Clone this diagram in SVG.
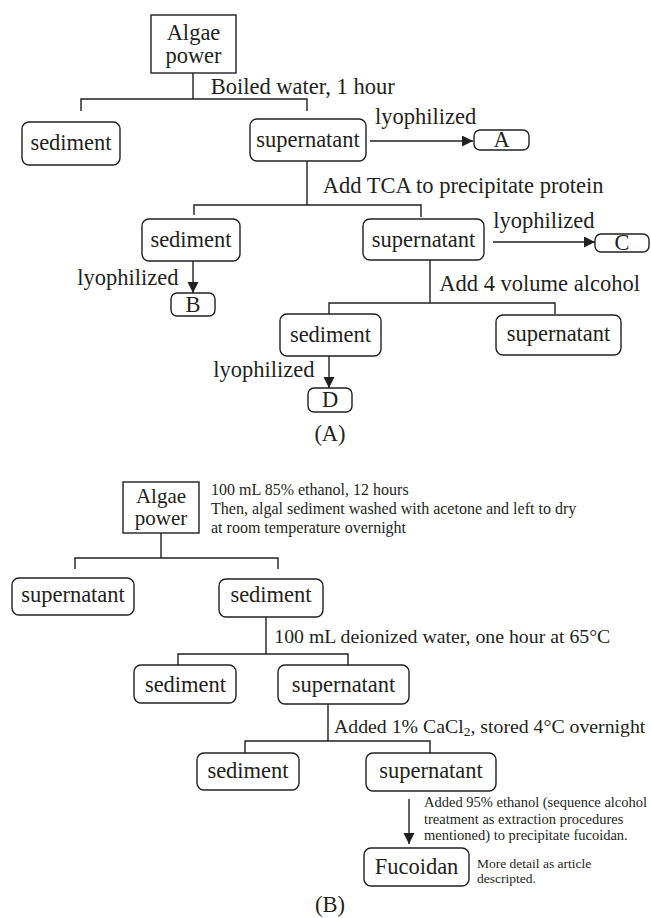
<svg xmlns="http://www.w3.org/2000/svg" width="651" height="918" viewBox="0 0 651 918">
<defs>
<marker id="arr" markerUnits="userSpaceOnUse" markerWidth="12" markerHeight="12" refX="11" refY="5.5" orient="auto">
<path d="M0,0 L11,5.5 L0,11 Z" fill="#231f20"/>
</marker>
<style>
text{font-family:"Liberation Serif","Times New Roman",serif;fill:#231f20;}
.t{font-size:22.5px;}
.t20{font-size:19.8px;}
.c{text-anchor:middle;}
.s16{font-size:16px;}
.s14{font-size:14.5px;}
.s13{font-size:13.5px;}
.box{fill:#fff;stroke:#231f20;stroke-width:1.4;}
.ln{fill:none;stroke:#231f20;stroke-width:1.4;}
.ar{fill:none;stroke:#231f20;stroke-width:1.4;marker-end:url(#arr);}
</style>
</defs>
<rect width="651" height="918" fill="#fff"/>

<g id="connectors">
<!-- Part A -->
<path class="ln" d="M193,73 V99 M81,111 V99 H307 V111"/>
<path class="ar" d="M370,141 H473"/>
<path class="ln" d="M307,161 V205 M194,215 V205 H421 V217"/>
<path class="ar" d="M193,261 V293"/>
<path class="ar" d="M493,242 H595"/>
<path class="ln" d="M430,260 V303 M329,314 V303 H555 V314"/>
<path class="ar" d="M329,356 V388"/>
<!-- Part B -->
<path class="ln" d="M161,533 V558 M75,569 V558 H278 V569"/>
<path class="ln" d="M266,617 V654 M178,665 V654 H348 V665"/>
<path class="ln" d="M328,704 V741 M245,753 V741 H430 V753"/>
<path class="ar" d="M409,799 V844"/>
</g>

<g id="labels">
<text class="t" x="210.7" y="94">Boiled water, 1 hour</text>
<text class="t" x="375" y="124">lyophilized</text>
<text class="t" x="322.7" y="193">Add TCA to precipitate protein</text>
<text class="t" x="77.3" y="285">lyophilized</text>
<text class="t" x="493.3" y="228">lyophilized</text>
<text class="t" x="439.3" y="290.7">Add 4 volume alcohol</text>
<text class="t" x="213.3" y="376.7">lyophilized</text>
<text class="t c" x="330" y="441">(A)</text>
<text class="s16" x="211" y="495">100 mL 85% ethanol, 12 hours</text>
<text class="s16" x="211" y="514">Then, algal sediment washed with acetone and left to dry</text>
<text class="s16" x="211" y="533">at room temperature overnight</text>
<text class="t20" x="274.3" y="643.3">100 mL deionized water, one hour at 65°C</text>
<text class="t20" x="334" y="733.3">Added 1% CaCl<tspan font-size="13.5" dy="3">2</tspan><tspan dy="-3">, stored 4°C overnight</tspan></text>
<text class="s14" x="424" y="807">Added 95% ethanol (sequence alcohol</text>
<text class="s14" x="424" y="823.5">treatment as extraction procedures</text>
<text class="s14" x="424" y="840">mentioned) to precipitate fucoidan.</text>
<text class="s13" x="477" y="868.3">More detail as article</text>
<text class="s13" x="477" y="883.3">descripted.</text>
<text class="t c" x="330" y="912">(B)</text>
</g>

<g id="a-algae"><rect class="box" x="151" y="15" width="85" height="58"/><text class="t c" x="193.5" y="40">Algae</text><text class="t c" x="193.5" y="63">power</text></g>
<g id="a-sediment1"><rect class="box" x="22" y="122" width="98" height="43" rx="7"/><text class="t c" x="71" y="150">sediment</text></g>
<g id="a-supernatant1"><rect class="box" x="250" y="119" width="116" height="42" rx="7"/><text class="t c" x="308" y="147">supernatant</text></g>
<g id="a-A"><rect class="box" x="474" y="130" width="55" height="20" rx="6"/><text class="t c" x="501.5" y="147">A</text></g>
<g id="a-sediment2"><rect class="box" x="142" y="219" width="98" height="42" rx="7"/><text class="t c" x="191" y="246.7">sediment</text></g>
<g id="a-B"><rect class="box" x="171" y="293" width="44" height="23" rx="6"/><text class="t c" x="193" y="311.7">B</text></g>
<g id="a-supernatant2"><rect class="box" x="363" y="219" width="121" height="41" rx="7"/><text class="t c" x="423.5" y="246.7">supernatant</text></g>
<g id="a-C"><rect class="box" x="595" y="234" width="54" height="18" rx="6"/><text class="t c" x="622" y="250">C</text></g>
<g id="a-sediment3"><rect class="box" x="280" y="314" width="101" height="42" rx="7"/><text class="t c" x="330.5" y="341.7">sediment</text></g>
<g id="a-supernatant3"><rect class="box" x="496" y="315" width="125" height="40" rx="7"/><text class="t c" x="558.5" y="341">supernatant</text></g>
<g id="a-D"><rect class="box" x="308" y="388" width="44" height="24" rx="6"/><text class="t c" x="330" y="407">D</text></g>

<g id="b-algae"><rect class="box" x="123" y="482" width="76" height="51"/><text class="c" font-size="21" x="161" y="503">Algae</text><text class="c" font-size="21" x="161" y="525">power</text></g>
<g id="b-supernatant1"><rect class="box" x="12" y="578" width="122" height="37" rx="7"/><text class="t c" x="73" y="601.7">supernatant</text></g>
<g id="b-sediment1"><rect class="box" x="219" y="579" width="104" height="38" rx="7"/><text class="t c" x="271" y="602">sediment</text></g>
<g id="b-sediment2"><rect class="box" x="134" y="665" width="102" height="38" rx="7"/><text class="t c" x="185.5" y="691.7">sediment</text></g>
<g id="b-supernatant2"><rect class="box" x="278" y="665" width="131" height="39" rx="7"/><text class="t c" x="343.5" y="691.7">supernatant</text></g>
<g id="b-sediment3"><rect class="box" x="197" y="753" width="102" height="37" rx="7"/><text class="t c" x="248" y="778.3">sediment</text></g>
<g id="b-supernatant3"><rect class="box" x="366" y="753" width="130" height="38" rx="7"/><text class="t c" x="431" y="778.3">supernatant</text></g>
<g id="b-fucoidan"><rect class="box" x="364" y="848" width="105" height="38" rx="7"/><text class="t c" x="416.5" y="874.3">Fucoidan</text></g>
</svg>
